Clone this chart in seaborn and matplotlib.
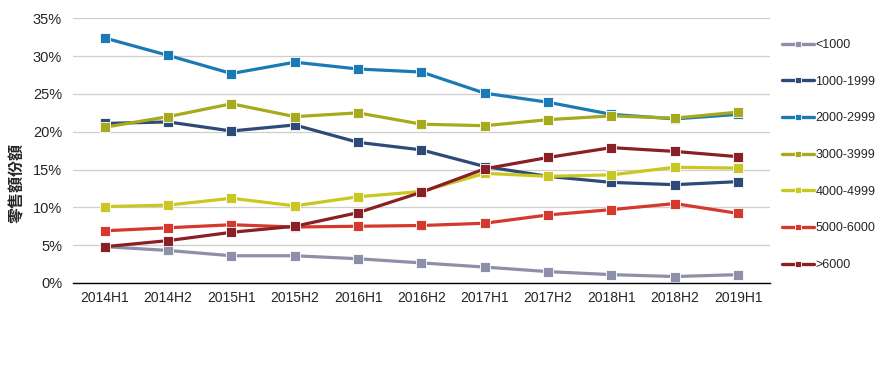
import numpy as np
import pandas as pd
import matplotlib
matplotlib.use("Agg")
import matplotlib.pyplot as plt
import matplotlib.ticker as mticker
import seaborn as sns

periods = ["2014H1", "2014H2", "2015H1", "2015H2", "2016H1", "2016H2",
           "2017H1", "2017H2", "2018H1", "2018H2", "2019H1"]

lt1000 = [4.8, 4.3, 3.6, 3.6, 3.2, 2.65, 2.1, 1.5, 1.1, 0.85, 1.1]
p1000_1999 = [21.1, 21.3, 20.1, 20.9, 18.6, 17.6, 15.4, 14.1, 13.3, 13.0, 13.4]
p2000_2999 = [32.4, 30.1, 27.7, 29.2, 28.3, 27.9, 25.1, 23.9, 22.3, 21.7, 22.3]
p3000_3999 = [20.6, 22.0, 23.7, 22.0, 22.5, 21.0, 20.8, 21.6, 22.1, 21.8, 22.6]
p4000_4999 = [10.1, 10.3, 11.2, 10.2, 11.4, 12.1, 14.5, 14.1, 14.3, 15.3, 15.2]
p5000_6000 = [6.9, 7.3, 7.7, 7.4, 7.5, 7.6, 7.9, 9.0, 9.7, 10.5, 9.2]
gt6000 = [4.8, 5.6, 6.7, 7.5, 9.3, 12.0, 15.1, 16.6, 17.9, 17.4, 16.7]

series = {
    "<1000": lt1000,
    "1000-1999": p1000_1999,
    "2000-2999": p2000_2999,
    "3000-3999": p3000_3999,
    "4000-4999": p4000_4999,
    "5000-6000": p5000_6000,
    ">6000": gt6000,
}
colors = ["#8E8FA8", "#2E4A78", "#1A7AB6", "#A6AA1C", "#C9C823", "#D5392E", "#8A1F25"]

rows = []
for name, vals in series.items():
    for i, v in enumerate(vals):
        rows.append({"x": i, "period": periods[i], "share": v, "band": name})
df = pd.DataFrame(rows)

sns.set_style("white")
plt.rcParams['font.family'] = ['Liberation Sans', 'Noto Sans CJK TC', 'DejaVu Sans']

fig = plt.figure(figsize=(8.92, 3.67), dpi=100)
ax = fig.add_axes([0.082, 0.229, 0.781, 0.721])

sns.lineplot(data=df, x="x", y="share", hue="band", palette=colors,
             marker="s", markersize=6.5, markeredgecolor="white", markeredgewidth=0.6,
             linewidth=2.3, dashes=False, ax=ax)

ax.set_xlim(-0.5, 10.5)
ax.set_ylim(0, 35)
ax.set_xticks(range(len(periods)))
ax.set_xticklabels(periods, fontsize=10)
ax.yaxis.set_major_locator(mticker.MultipleLocator(5))
ax.yaxis.set_major_formatter(mticker.FuncFormatter(lambda v, p: f"{int(v)}%"))
ax.tick_params(axis="y", labelsize=10.5, length=0, pad=8)
ax.tick_params(axis="x", length=0, pad=6)
ax.grid(axis="y", color="#CFCFCF", linewidth=0.9)
ax.set_axisbelow(True)
for s in ["top", "right", "left"]:
    ax.spines[s].set_visible(False)
ax.spines["bottom"].set_color("black")
ax.spines["bottom"].set_linewidth(1.0)
ax.set_xlabel("")
ax.set_ylabel("零售額份額", fontsize=11.5, fontweight="bold",
              family=['Noto Sans CJK TC', 'DejaVu Sans'])
ax.yaxis.set_label_coords(-0.069, 0.378)

handles, labels = ax.get_legend_handles_labels()
leg = ax.legend(handles, labels, loc="upper left", bbox_to_anchor=(1.01, 0.94),
                frameon=False, fontsize=9, labelspacing=1.97, handlelength=2.6,
                handletextpad=0.1, borderaxespad=0)
for h in leg.legend_handles:
    h.set_linewidth(2.4)
    h.set_markersize(5)

fig.savefig("out.png", dpi=100)
